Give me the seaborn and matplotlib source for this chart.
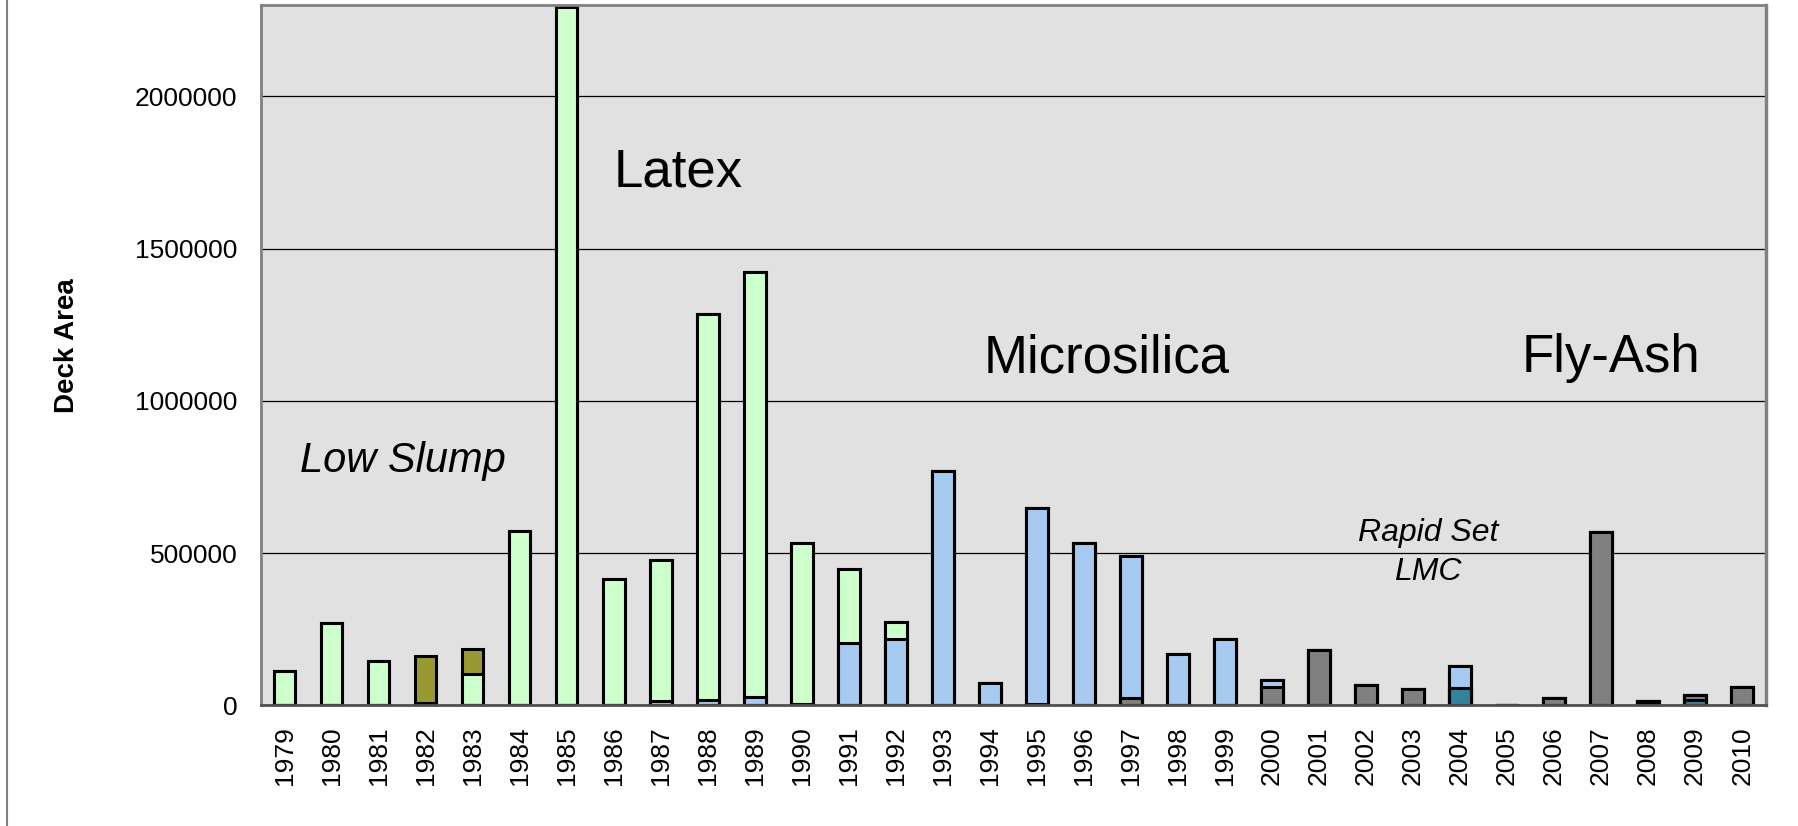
import numpy as np
import pandas as pd
import matplotlib
matplotlib.use("Agg")
import matplotlib.pyplot as plt
from matplotlib.lines import Line2D
import seaborn as sns

# deck area per year, split by overlay type
years = ['1979', '1980', '1981', '1982', '1983', '1984', '1985', '1986',
         '1987', '1988', '1989', '1990', '1991', '1992', '1993', '1994',
         '1995', '1996', '1997', '1998', '1999', '2000', '2001', '2002',
         '2003', '2004', '2005', '2006', '2007', '2008', '2009', '2010']
rapid_set = [0, 0, 0, 0, 0, 0, 0, 0,
             0, 0, 0, 0, 0, 0, 0, 0,
             0, 0, 0, 0, 0, 0, 0, 0,
             0, 56000, 0, 3000, 0, 11000, 18000, 0]
fly_ash = [0, 0, 0, 0, 0, 0, 0, 0,
           0, 0, 0, 0, 0, 0, 0, 0,
           5000, 0, 23000, 0, 0, 62000, 183000, 68000,
           53000, 0, 3000, 21000, 569000, 4000, 16500, 60000]
microsilica = [0, 0, 0, 0, 0, 0, 0, 0,
               15000, 18000, 29000, 5000, 204000, 217000, 769000, 73000,
               643000, 535000, 467000, 168000, 217000, 21000, 0, 0,
               0, 74000, 0, 0, 0, 0, 0, 0]
latex = [113000, 270000, 146000, 9000, 102000, 573000, 2292000, 414000,
         464000, 1266000, 1395000, 530000, 243000, 56000, 0, 0,
         0, 0, 0, 0, 0, 0, 0, 0,
         0, 0, 0, 0, 0, 0, 0, 0]
low_slump = [0, 0, 0, 154500, 84500, 0, 0, 0,
             0, 0, 0, 0, 0, 0, 0, 0,
             0, 0, 0, 0, 0, 0, 0, 0,
             0, 0, 0, 0, 0, 0, 0, 0]

sns.set_style("white", {"axes.facecolor": "#E1E1E1", "text.color": "black",
                        "xtick.color": "black", "ytick.color": "black"})
plt.rcParams['font.family'] = ['Liberation Sans', 'DejaVu Sans']

df = pd.DataFrame({"year": years, "rapid_set": rapid_set, "fly_ash": fly_ash,
                   "microsilica": microsilica, "latex": latex, "low_slump": low_slump})
layers = [("rapid_set", "#31849B"), ("fly_ash", "#808080"), ("microsilica", "#A6CAF0"),
          ("latex", "#CCFFCC"), ("low_slump", "#999933")]
cum = df[[n for n, _ in layers]].cumsum(axis=1)

fig = plt.figure(figsize=(17.98, 8.26), dpi=100)
ax = fig.add_axes([0.1452, 0.1459, 0.8368, 0.8481])

# stacked look: draw cumulative totals, tallest first
for name, color in reversed(layers):
    sns.barplot(x=df["year"], y=cum[name], color=color, edgecolor="black",
                linewidth=2.2, width=0.46, errorbar=None, saturation=1, ax=ax)

ax.set_ylim(0, 2300000)
ax.set_xlim(-0.5, len(years) - 0.5)
ax.set_yticks([0, 500000, 1000000, 1500000, 2000000])
ax.set_yticklabels(["0", "500000", "1000000", "1500000", "2000000"])
ax.set_xticks(range(len(years)))
ax.set_xticklabels(years, rotation=90)
ax.set_xticks(np.arange(-0.5, len(years), 1), minor=True)
ax.tick_params(axis="x", which="major", length=0, pad=15, labelsize=19, labelcolor="black")
ax.tick_params(axis="x", which="minor", length=8, width=1.2, color="#555555", direction="out")
ax.tick_params(axis="y", length=8, width=1.2, color="#555555", direction="out", pad=9,
               labelsize=19, labelcolor="black")
ax.set_xlabel("")
ax.set_ylabel("")
ax.yaxis.grid(True, color="black", linewidth=0.9)
ax.set_axisbelow(True)

for side in ["left", "top", "right"]:
    ax.spines[side].set_color("#808080")
    ax.spines[side].set_linewidth(2)
ax.spines["right"].set_linewidth(2.5)
ax.spines["bottom"].set_color("#505050")
ax.spines["bottom"].set_linewidth(2)

ax.text(6.99, 1703000, "Latex", fontsize=38, color="black", ha="left", va="baseline")
ax.text(14.87, 1094000, "Microsilica", fontsize=38, color="black", ha="left", va="baseline")
ax.text(26.31, 1094000, "Fly-Ash", fontsize=38, color="black", ha="left", va="baseline")
ax.text(0.33, 767600, "Low Slump", fontsize=30, style="italic", color="black", ha="left", va="baseline")
ax.text(24.32, 541000, "Rapid Set", fontsize=23, style="italic", color="black", ha="center", va="baseline")
ax.text(24.32, 412000, "LMC", fontsize=23, style="italic", color="black", ha="center", va="baseline")

fig.text(0.0373, 0.581, "Deck Area", rotation=90, fontsize=20, fontweight="bold", color="black",
         ha="center", va="center", family=["Liberation Sans Narrow", "Liberation Sans", "DejaVu Sans"])

fig.add_artist(Line2D([7 / 1798, 7 / 1798], [0, 1], transform=fig.transFigure,
                      color="#808080", linewidth=1.5))

fig.savefig("out.png", dpi=100)
